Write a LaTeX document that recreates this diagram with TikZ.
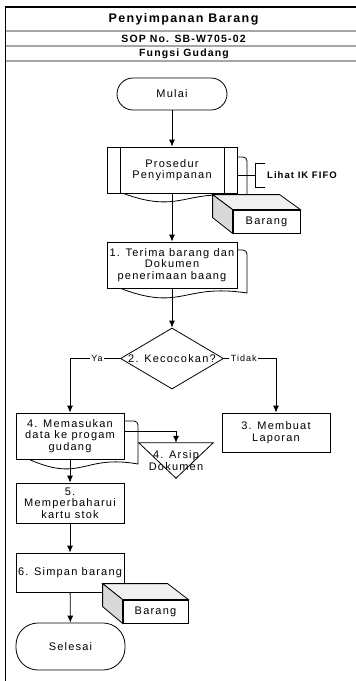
\documentclass[tikz,border=0pt]{standalone}
\usepackage{fontspec}
\setmainfont{Liberation Sans}[LetterSpace=11]
\usetikzlibrary{shapes.geometric,arrows.meta,backgrounds}
\tikzstyle{every node}+=[inner sep=0pt]
\tikzstyle{teks}=[font=\fontsize{11}{11.5}\selectfont, align=center]
\tikzstyle{kepala}=[font=\fontsize{10.5}{12}\selectfont\bfseries]
\tikzstyle{garis}=[line width=0.8pt]
\tikzstyle{kotak}=[teks, draw, fill=white, garis]
\tikzstyle{terminal}=[kotak, rounded corners=16pt]
\tikzstyle{panah}=[garis, -{Latex[length=7pt,width=6pt]}]
\tikzstyle{cabang}=[fill=white, inner xsep=1.5pt, font=\fontsize{9}{10}\selectfont]

\begin{document}
\begin{tikzpicture}[x=1pt,y=-1pt]
\useasboundingbox (0,0) rectangle (356,681);
\draw [black, line width=1.2pt] (5,7) -- (356,7);
\draw [gray!70, line width=1.2pt] (5,31) -- (356,31);
\draw [gray!70, line width=1.2pt] (5,46) -- (356,46);
\draw [gray!70, line width=1.2pt] (5,61) -- (356,61);
\draw [black, line width=0.9pt] (5,7) -- (5,681);
\node (judul) at (183.5,19) [font=\fontsize{12.5}{15}\selectfont\bfseries] {Penyimpanan Barang};
\node (sop) at (183.5,38.5) [kepala] {SOP No. SB-W705-02};
\node (fungsi) at (184,53.5) [kepala] {Fungsi Gudang};

\node (mulai) at (172,94) [terminal, minimum width=110pt, minimum height=32pt] {Mulai};

\node (prosedur) at (172,170) [kotak, minimum width=130pt, minimum height=46pt] {Prosedur\\Penyimpanan};
\draw [garis] ([xshift=14pt]prosedur.north west) -- ([xshift=14pt]prosedur.south west);
\draw [garis] ([xshift=-13pt]prosedur.north east) -- ([xshift=-13pt]prosedur.south east);

\node (fifo) at (267,175) [anchor=west, font=\fontsize{9.5}{11}\selectfont\bfseries] {Lihat IK FIFO};
\draw [garis] (prosedur.east |- fifo.west) -- ++(18,0) coordinate (kurung);
\draw [garis] ([xshift=10pt,yshift=12pt]kurung) -- ([yshift=12pt]kurung) -- ([yshift=-12pt]kurung) -- ([xshift=10pt,yshift=-12pt]kurung);

\node (barang1) at (266.5,221.5) [kotak, minimum width=67pt, minimum height=23pt] {Barang};
\draw [garis, fill=gray!12] (barang1.north west) -- ++(-20,-15) -- ++(67,0) -- (barang1.north east) -- cycle;
\draw [garis, fill=gray!30] (barang1.north west) -- ++(-20,-15) -- ++(0,23) -- (barang1.south west) -- cycle;

\node (terima) at (172,265) [kotak, minimum width=130pt, minimum height=46pt] {1. Terima barang dan\\Dokumen\\penerimaan baang};

\node (cocok) at (172,358.5) [diamond, draw, fill=white, garis, minimum width=103pt, minimum height=61pt, label={[teks]center:2. Kecocokan?}] {};

\node (laporan) at (276,432.5) [kotak, minimum width=108pt, minimum height=39pt] {3. Membuat\\Laporan};
\node (masuk) at (70,436) [kotak, minimum width=108pt, minimum height=46pt] {4. Memasukan\\data ke progam\\gudang};
\node (arsip) at (176,460.5) [teks, minimum width=74pt, minimum height=35pt] {4. Arsip\\Dokumen};
\draw [garis] (arsip.north west) -- (arsip.north east) -- (arsip.south) -- cycle;
\node (stok) at (70,503) [kotak, minimum width=108pt, minimum height=40pt] {5.\\Memperbaharui\\kartu stok};
\node (simpan) at (70,572.5) [kotak, minimum width=108pt, minimum height=39pt] {6. Simpan barang};

\node (barang2) at (155.5,611.5) [kotak, minimum width=65pt, minimum height=23pt] {Barang};
\draw [garis, fill=gray!12] (barang2.north west) -- ++(-20,-16) -- ++(65,0) -- (barang2.north east) -- cycle;
\draw [garis, fill=gray!30] (barang2.north west) -- ++(-20,-16) -- ++(0,23) -- (barang2.south west) -- cycle;

\node (selesai) at (70.5,646.5) [terminal, rounded corners=22pt, minimum width=109pt, minimum height=47pt] {Selesai};

\begin{scope}[on background layer]
\draw [garis, fill=white] (117,157) -- (243,157) arc[start angle=90, end angle=0, radius=4pt] -- (247,197) .. controls (182,187) and (182,217) .. (117,191) -- cycle;
\draw [garis, fill=white] (117,250) -- (243,250) arc[start angle=90, end angle=0, radius=4pt] -- (247,293) .. controls (182,283) and (182,313) .. (117,287) -- cycle;
\draw [garis, fill=white] (26,421) -- (134,421) arc[start angle=90, end angle=0, radius=4pt] -- (138,464) .. controls (82,454) and (82,484) .. (26,458) -- cycle;
\end{scope}

\draw [panah] (mulai) -- (prosedur);
\draw [panah] (prosedur) -- (terima);
\draw [panah] (terima) -- (cocok);
\draw [panah] (cocok.west) -| node [cabang, pos=0.23] {Ya} (masuk.north);
\draw [panah] (cocok.east) -| node [cabang, pos=0.19] {Tidak} (laporan.north);
\draw [panah] ([yshift=5pt]masuk.east) -| (arsip.north);
\draw [panah] (masuk) -- (stok);
\draw [panah] (stok) -- (simpan);
\draw [panah] (simpan) -- (selesai);
\end{tikzpicture}
\end{document}
